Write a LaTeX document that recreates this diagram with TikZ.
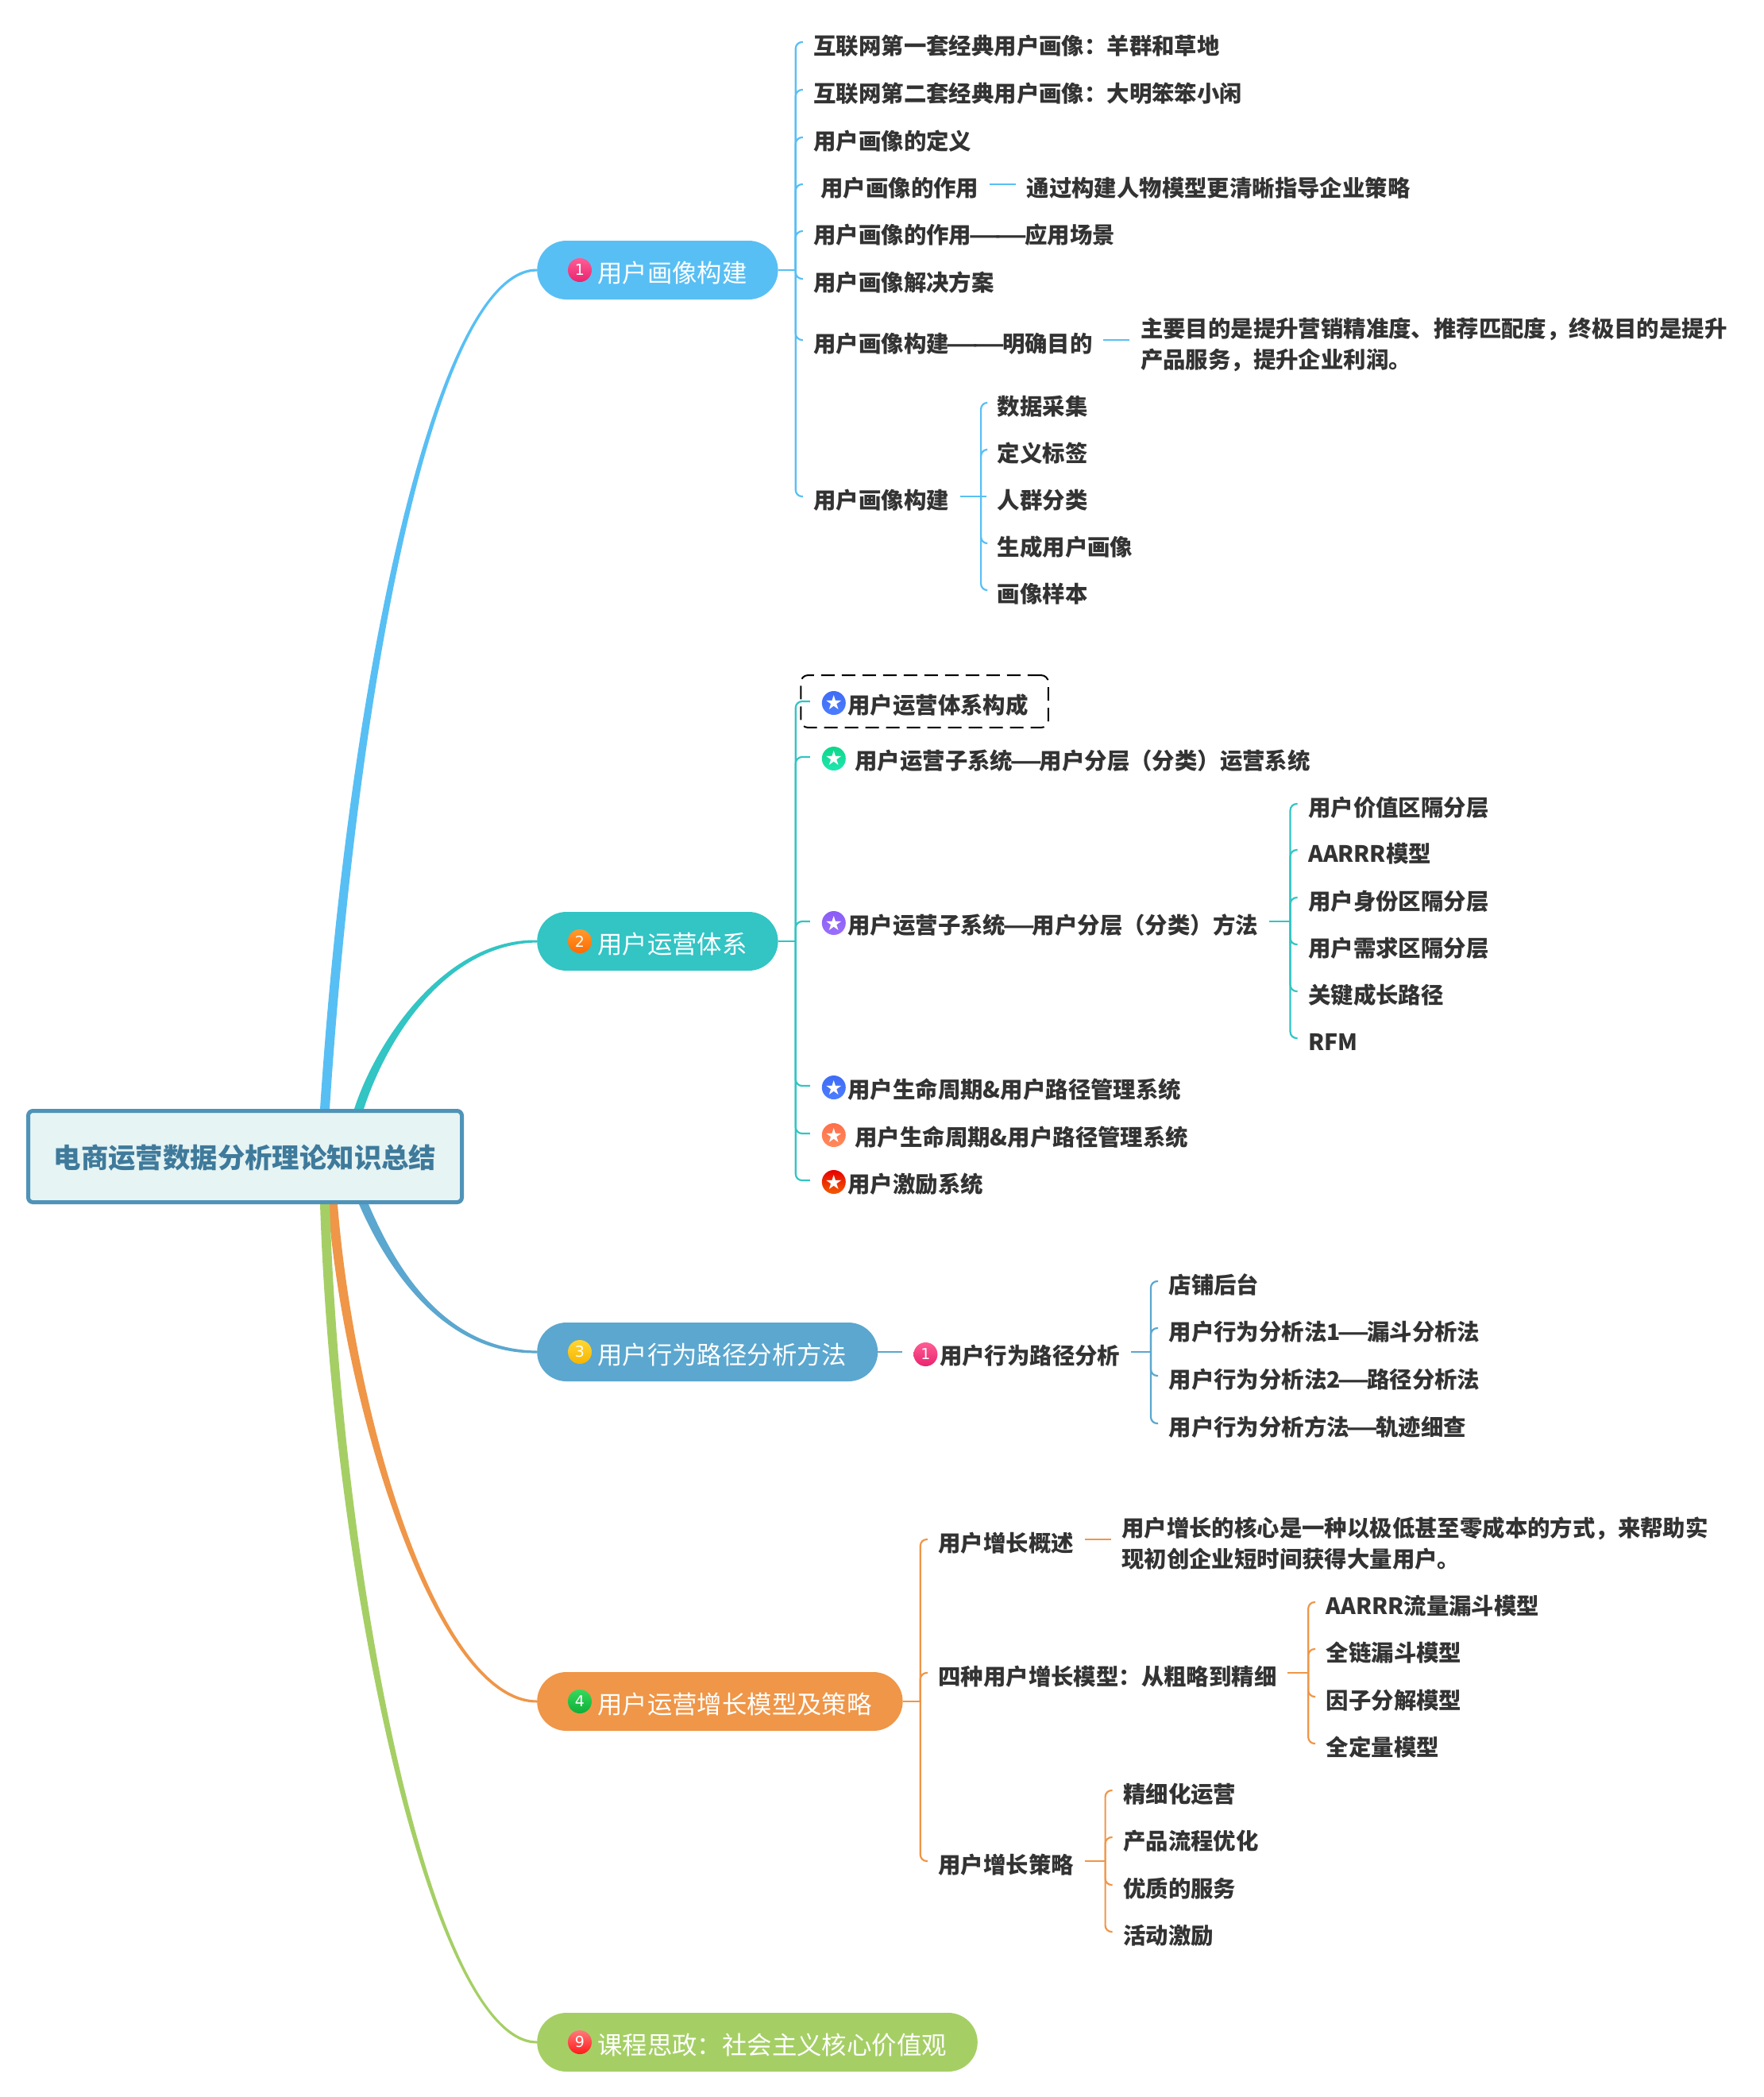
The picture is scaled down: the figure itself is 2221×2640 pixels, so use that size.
\documentclass[tikz,border=0pt]{standalone}
\usepackage{fontspec}
\setmainfont{Noto Sans CJK SC}
\newfontfamily\symfont{DejaVu Sans}
\usetikzlibrary{positioning, calc, fit, backgrounds}

\definecolor{cola}{HTML}{58BFF4}
\definecolor{colb}{HTML}{33C4C4}
\definecolor{colc}{HTML}{5BA7CF}
\definecolor{cold}{HTML}{EF9648}
\definecolor{cole}{HTML}{A5CF65}
\definecolor{rootline}{HTML}{4F93B8}
\definecolor{rootfill}{HTML}{E6F4F4}
\definecolor{roottext}{HTML}{3F7A9B}
\definecolor{leaftext}{HTML}{333333}
\definecolor{pinktop}{HTML}{FF5C94}
\definecolor{pinkbot}{HTML}{E9246F}
\definecolor{ambertop}{HTML}{FF9A2E}
\definecolor{amberbot}{HTML}{FF6A00}
\definecolor{yellowtop}{HTML}{FFD633}
\definecolor{yellowbot}{HTML}{F7B500}
\definecolor{greentop}{HTML}{35D95A}
\definecolor{greenbot}{HTML}{0FAE3A}
\definecolor{redtop}{HTML}{FF7A7A}
\definecolor{redbot}{HTML}{FF1A1A}
\definecolor{bluetop}{HTML}{3F6CF5}
\definecolor{bluebot}{HTML}{4C7DFF}
\definecolor{minttop}{HTML}{0FD68A}
\definecolor{mintbot}{HTML}{1FE6B0}
\definecolor{violettop}{HTML}{8B5CF6}
\definecolor{violetbot}{HTML}{9A70FA}
\definecolor{coraltop}{HTML}{FF6F4A}
\definecolor{coralbot}{HTML}{FF8A5C}
\definecolor{firetop}{HTML}{E80000}
\definecolor{firebot}{HTML}{F25C00}

% tapered limb: colour, start, end, first control, second control, side
\newcommand{\limb}[6]{\fill[#1] ($(#2)+(-6,0)$) .. controls ($(#4)+(-6,0)$) and ($(#5)+(0,-3.5*#6)$) .. ($(#3)+(0,-1.5*#6)$) -- ($(#3)+(0,1.5*#6)$) .. controls ($(#5)+(0,3.5*#6)$) and ($(#4)+(6,0)$) .. ($(#2)+(6,0)$) -- cycle;}
\newcommand{\longdash}{\kern-4pt\scalebox{1.6}[1]{—}\kern-4pt}

\begin{document}
\begin{tikzpicture}[x=1pt,y=-1pt,
    root_node/.style={rectangle, draw=rootline, line width=5pt, fill=rootfill, rounded corners=6pt, minimum width=546pt, minimum height=115pt, text height=31pt, text depth=1.8pt, text=roottext, font=\fontsize{34.4}{40}\selectfont\bfseries},
    pill_node/.style={rectangle, fill=#1, rounded corners=37pt, minimum height=74pt, inner xsep=39pt, inner ysep=0pt, text height=32pt, text depth=1.7pt, text=white, font=\fontsize{31.4}{38}\selectfont},
    leaf_node/.style={inner xsep=13.5pt, inner ysep=3pt, text height=31.5pt, text depth=1pt, text=leaftext, font=\fontsize{28.4}{39}\selectfont\bfseries},
    note_node/.style={inner xsep=13.5pt, inner ysep=3pt, align=left, text=leaftext, font=\fontsize{28.4}{39}\selectfont\bfseries},
    num_badge/.style={circle, minimum size=30pt, inner sep=0pt, top color=#1top, bottom color=#1bot, text=white, font=\fontsize{19}{19}\selectfont\symfont},
    star_badge/.style={circle, minimum size=30pt, inner sep=0pt, top color=#1top, bottom color=#1bot, text=white, font=\fontsize{25}{25}\selectfont\symfont},
    twig/.style={draw=#1, line width=2.2pt, rounded corners=8pt},
    dash_box/.style={draw=black, line width=2pt, dash pattern=on 17pt off 9pt, rounded corners=9pt, inner xsep=11.5pt, inner ysep=13.5pt},
    ]
    \useasboundingbox (0,0) rectangle (2221,2640);

    % Nodes
    \node[root_node] (root) at (308.5,1456) {电商运营数据分析理论知识总结};
    \node[pill_node=cola] (p1) [above right=1116pt and 92pt of root.east, anchor=west] {\hspace*{37pt}用户画像构建};
    \node[pill_node=colb] (p2) [above right=271pt and 92pt of root.east, anchor=west] {\hspace*{37pt}用户运营体系};
    \node[pill_node=colc] (p3) [below right=246pt and 92pt of root.east, anchor=west] {\hspace*{37pt}用户行为路径分析方法};
    \node[pill_node=cold] (p4) [below right=686pt and 92pt of root.east, anchor=west] {\hspace*{37pt}用户运营增长模型及策略};
    \node[pill_node=cole] (p5) [below right=1115pt and 92pt of root.east, anchor=west] {\hspace*{37pt}课程思政^^^^ff1a社会主义核心价值观};

    \node[num_badge=pink] (n1) at ([xshift=54pt]p1.west) {1};
    \node[num_badge=amber] (n2) at ([xshift=54pt]p2.west) {2};
    \node[num_badge=yellow] (n3) at ([xshift=54pt]p3.west) {3};
    \node[num_badge=green] (n4) at ([xshift=54pt]p4.west) {4};
    \node[num_badge=red] (n9) at ([xshift=54pt]p5.west) {9};

    % first branch
    \coordinate[right=22pt of p1] (ha);
    \node[leaf_node] (a1) [above right=287pt and 9pt of ha, anchor=west] {互联网第一套经典用户画像^^^^ff1a羊群和草地};
    \node[leaf_node] (a2) [below=60pt of a1.west, anchor=west] {互联网第二套经典用户画像^^^^ff1a大明笨笨小闲};
    \node[leaf_node] (a3) [below=60pt of a2.west, anchor=west] {用户画像的定义};
    \node[leaf_node] (a4) [below=59pt of a3.west, anchor=west] {\hspace*{9pt}用户画像的作用};
    \node[leaf_node] (a4b) [right=33pt of a4] {通过构建人物模型更清晰指导企业策略};
    \node[leaf_node] (a5) [below=59pt of a4.west, anchor=west] {用户画像的作用\longdash\longdash 应用场景};
    \node[leaf_node] (a6) [below=60pt of a5.west, anchor=west] {用户画像解决方案};
    \node[leaf_node] (a7) [below=77pt of a6.west, anchor=west] {用户画像构建\longdash\longdash 明确目的};
    \node[note_node] (a7b) [right=33pt of a7, yshift=-5.5pt] {主要目的是提升营销精准度、推荐匹配度^^^^ff0c终极目的是提升\\产品服务^^^^ff0c提升企业利润。};
    \node[leaf_node] (a8) [below=197pt of a7.west, anchor=west] {用户画像构建};
    \coordinate[right=26.5pt of a8] (ha8);
    \node[leaf_node] (a8a) [above right=118pt and 7pt of ha8, anchor=west] {数据采集};
    \node[leaf_node] (a8b) [below=59pt of a8a.west, anchor=west] {定义标签};
    \node[leaf_node] (a8c) [below=59pt of a8b.west, anchor=west] {人群分类};
    \node[leaf_node] (a8d) [below=59pt of a8c.west, anchor=west] {生成用户画像};
    \node[leaf_node] (a8e) [below=59pt of a8d.west, anchor=west] {画像样本};

    % second branch
    \coordinate[right=22pt of p2] (hb);
    \node[leaf_node] (c1) [above right=302pt and 18pt of hb, anchor=west] {\hspace*{34pt}用户运营体系构成};
    \node[dash_box, fit=(c1)] (c1box) {};
    \node[leaf_node] (c2) [below=70pt of c1.west, anchor=west] {\hspace*{43pt}用户运营子系统\longdash 用户分层^^^^ff08分类^^^^ff09运营系统};
    \node[leaf_node] (c3) [below=207pt of c2.west, anchor=west] {\hspace*{34pt}用户运营子系统\longdash 用户分层^^^^ff08分类^^^^ff09方法};
    \node[leaf_node] (c4) [below=207pt of c3.west, anchor=west] {\hspace*{34pt}用户生命周期\&用户路径管理系统};
    \node[leaf_node] (c5) [below=60pt of c4.west, anchor=west] {\hspace*{43pt}用户生命周期\&用户路径管理系统};
    \node[leaf_node] (c6) [below=59pt of c5.west, anchor=west] {\hspace*{34pt}用户激励系统};
    \node[star_badge=blue] (s1) at ([xshift=30pt,yshift=-2pt]c1.west) {★};
    \node[star_badge=mint] (s2) at ([xshift=30pt,yshift=-2pt]c2.west) {★};
    \node[star_badge=violet] (s3) at ([xshift=30pt,yshift=-2pt]c3.west) {★};
    \node[star_badge=blue] (s4) at ([xshift=30pt,yshift=-2pt]c4.west) {★};
    \node[star_badge=coral] (s5) at ([xshift=30pt,yshift=-2pt]c5.west) {★};
    \node[star_badge=fire] (s6) at ([xshift=30pt,yshift=-2pt]c6.west) {★};
    \coordinate[right=27pt of c3] (hc3);
    \node[leaf_node] (c3a) [above right=148pt and 9pt of hc3, anchor=west] {用户价值区隔分层};
    \node[leaf_node] (c3b) [below=58pt of c3a.west, anchor=west] {AARRR模型};
    \node[leaf_node] (c3c) [below=60pt of c3b.west, anchor=west] {用户身份区隔分层};
    \node[leaf_node] (c3d) [below=59pt of c3c.west, anchor=west] {用户需求区隔分层};
    \node[leaf_node] (c3e) [below=59pt of c3d.west, anchor=west] {关键成长路径};
    \node[leaf_node] (c3f) [below=59pt of c3e.west, anchor=west] {RFM};

    % third branch
    \node[leaf_node] (d1) [right=31pt of p3] {\hspace*{33pt}用户行为路径分析};
    \node[num_badge=pink] (n1b) at ([xshift=29pt,yshift=-3pt]d1.west) {1};
    \coordinate[right=25pt of d1] (hd);
    \node[leaf_node] (d1a) [above right=89pt and 9pt of hd, anchor=west] {店铺后台};
    \node[leaf_node] (d1b) [below=59pt of d1a.west, anchor=west] {用户行为分析法1\longdash 漏斗分析法};
    \node[leaf_node] (d1c) [below=60pt of d1b.west, anchor=west] {用户行为分析法2\longdash 路径分析法};
    \node[leaf_node] (d1d) [below=60pt of d1c.west, anchor=west] {用户行为分析方法\longdash 轨迹细查};

    % fourth branch
    \coordinate[right=22pt of p4] (he);
    \node[leaf_node] (e1) [above right=204pt and 9pt of he, anchor=west] {用户增长概述};
    \node[note_node] (e1b) [right=33pt of e1, yshift=-5.5pt] {用户增长的核心是一种以极低甚至零成本的方式^^^^ff0c来帮助实\\现初创企业短时间获得大量用户。};
    \node[leaf_node] (e2) [below=168pt of e1.west, anchor=west] {四种用户增长模型^^^^ff1a从粗略到精细};
    \coordinate[right=26pt of e2] (he2);
    \node[leaf_node] (e2a) [above right=89pt and 9pt of he2, anchor=west] {AARRR流量漏斗模型};
    \node[leaf_node] (e2b) [below=59pt of e2a.west, anchor=west] {全链漏斗模型};
    \node[leaf_node] (e2c) [below=60pt of e2b.west, anchor=west] {因子分解模型};
    \node[leaf_node] (e2d) [below=59pt of e2c.west, anchor=west] {全定量模型};
    \node[leaf_node] (e3) [below=237pt of e2.west, anchor=west] {用户增长策略};
    \coordinate[right=26pt of e3] (he3);
    \node[leaf_node] (e3a) [above right=89pt and 9pt of he3, anchor=west] {精细化运营};
    \node[leaf_node] (e3b) [below=59pt of e3a.west, anchor=west] {产品流程优化};
    \node[leaf_node] (e3c) [below=60pt of e3b.west, anchor=west] {优质的服务};
    \node[leaf_node] (e3d) [below=59pt of e3c.west, anchor=west] {活动激励};

    % Limbs from the root
    \begin{scope}[on background layer]
    \coordinate (ra) at ([xshift=100.5pt]root.north);
    \coordinate (rb) at ([xshift=143.5pt]root.north);
    \coordinate (rc) at ([xshift=149.5pt]root.south);
    \coordinate (rd) at ([xshift=110.5pt]root.south);
    \coordinate (re) at ([xshift=100.5pt]root.south);
    \limb{cola}{ra}{p1.west}{445,846}{550,340}{1}
    \limb{colb}{rb}{p2.west}{480,1310}{560,1185}{1}
    \limb{colc}{rc}{p3.west}{490,1590}{555,1702}{-1}
    \limb{cold}{rd}{p4.west}{440,1780}{550,2142}{-1}
    \limb{cole}{re}{p5.west}{425,2000}{545,2571}{-1}
    \end{scope}

    % Connectors
    \draw[twig=cola] (p1) -- (ha);
    \draw[twig=cola] (ha) |- (a1.west); \draw[twig=cola] (ha) |- (a2.west);
    \draw[twig=cola] (ha) |- (a3.west); \draw[twig=cola] (ha) |- (a4.west);
    \draw[twig=cola] (ha) |- (a5.west); \draw[twig=cola] (ha) |- (a6.west);
    \draw[twig=cola] (ha) |- (a7.west); \draw[twig=cola] (ha) |- (a8.west);
    \draw[twig=cola] (a4) -- (a4b);
    \draw[twig=cola] (a7) -- (a7 -| a7b.west);
    \draw[twig=cola] (a8) -- (ha8);
    \draw[twig=cola] (ha8) |- (a8a.west); \draw[twig=cola] (ha8) |- (a8b.west);
    \draw[twig=cola] (ha8) |- (a8d.west); \draw[twig=cola] (ha8) |- (a8e.west);
    \draw[twig=cola] (ha8) -- (a8c.west);

    \draw[twig=colb] (p2) -- (hb);
    \draw[twig=colb] (hb) |- (c1.west); \draw[twig=colb] (hb) |- (c2.west);
    \draw[twig=colb] (hb) |- (c3.west); \draw[twig=colb] (hb) |- (c4.west);
    \draw[twig=colb] (hb) |- (c5.west); \draw[twig=colb] (hb) |- (c6.west);
    \draw[twig=colb] (c3) -- (hc3);
    \draw[twig=colb] (hc3) |- (c3a.west); \draw[twig=colb] (hc3) |- (c3b.west);
    \draw[twig=colb] (hc3) |- (c3c.west); \draw[twig=colb] (hc3) |- (c3d.west);
    \draw[twig=colb] (hc3) |- (c3e.west); \draw[twig=colb] (hc3) |- (c3f.west);

    \draw[twig=colc] (p3) -- (d1);
    \draw[twig=colc] (d1) -- (hd);
    \draw[twig=colc] (hd) |- (d1a.west); \draw[twig=colc] (hd) |- (d1b.west);
    \draw[twig=colc] (hd) |- (d1c.west); \draw[twig=colc] (hd) |- (d1d.west);

    \draw[twig=cold] (p4) -- (he);
    \draw[twig=cold] (he) |- (e1.west); \draw[twig=cold] (he) |- (e2.west);
    \draw[twig=cold] (he) |- (e3.west);
    \draw[twig=cold] (e1) -- (e1 -| e1b.west);
    \draw[twig=cold] (e2) -- (he2);
    \draw[twig=cold] (he2) |- (e2a.west); \draw[twig=cold] (he2) |- (e2b.west);
    \draw[twig=cold] (he2) |- (e2c.west); \draw[twig=cold] (he2) |- (e2d.west);
    \draw[twig=cold] (e3) -- (he3);
    \draw[twig=cold] (he3) |- (e3a.west); \draw[twig=cold] (he3) |- (e3b.west);
    \draw[twig=cold] (he3) |- (e3c.west); \draw[twig=cold] (he3) |- (e3d.west);
\end{tikzpicture}
\end{document}
